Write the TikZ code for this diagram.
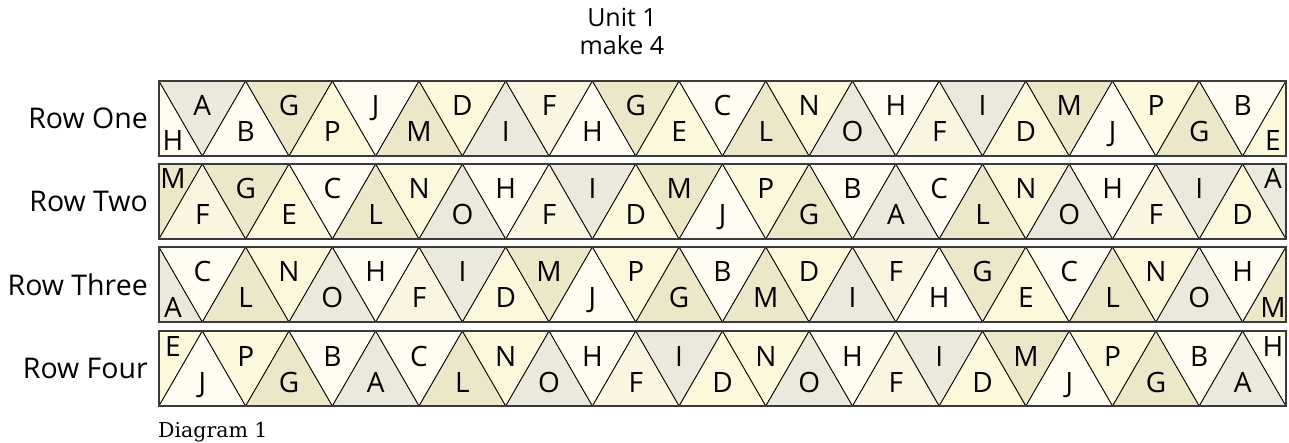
\documentclass[tikz,border=0pt]{standalone}
\usepackage{fontspec}
\setmainfont{Open Sans}
\newfontfamily\capfont{DejaVu Serif}
\usetikzlibrary{positioning}
\definecolor{Stone}{HTML}{EBE9DB}
\definecolor{Olive}{HTML}{ECE7C9}
\definecolor{Lemon}{HTML}{FCF8DC}
\definecolor{Cream}{HTML}{FAF5E1}
\definecolor{Ivory}{HTML}{FFFDF1}
\definecolor{Frame}{HTML}{3A3A3A}
% one fill per letter
\colorlet{tA}{Stone}\colorlet{tI}{Stone}\colorlet{tO}{Stone}
\colorlet{tG}{Olive}\colorlet{tM}{Olive}\colorlet{tL}{Olive}
\colorlet{tP}{Lemon}\colorlet{tD}{Lemon}\colorlet{tE}{Lemon}\colorlet{tN}{Lemon}
\colorlet{tF}{Cream}
\colorlet{tB}{Ivory}\colorlet{tJ}{Ivory}\colorlet{tH}{Ivory}\colorlet{tC}{Ivory}
\begin{document}
\begin{tikzpicture}[
  x=1pt,y=-1pt,
  tri/.style={fill=#1,draw=black,line width=.8pt,line join=miter},
  letter/.style={font=\fontsize{28}{30}\selectfont,inner sep=0pt,anchor=base},
  rowlabel/.style={font=\fontsize{28.5}{32}\selectfont,inner sep=0pt,anchor=east},
  frame/.style={draw=Frame,line width=1.3pt}
]
\useasboundingbox (0,0) rectangle (1289,443);
\def\rowx{159}\def\triw{86.69}\def\rowh{75}
\node[font=\fontsize{25}{28}\selectfont,align=center] (unit) at (622,31) {Unit 1\\make 4};
\foreach \row/\rowtop/\kind/\lbl/\seq in {
  one/81/0/Row One/{H,A,B,G,P,J,M,D,I,F,H,G,E,C,L,N,O,H,F,I,D,M,J,P,G,B,E},
  two/164/1/Row Two/{M,F,G,E,C,L,N,O,H,F,I,D,M,J,P,G,B,A,C,L,N,O,H,F,I,D,A},
  three/247/0/Row Three/{A,C,L,N,O,H,F,I,D,M,J,P,G,B,M,D,I,F,H,G,E,C,L,N,O,H,M},
  four/331/1/Row Four/{E,J,P,G,B,A,C,L,N,O,H,F,I,D,N,O,H,F,I,D,M,J,P,G,B,A,H}}{
  \node[rowlabel] (\row-label) at (148,{\rowtop+37.5}) {\lbl};
  \begin{scope}
    \clip (\rowx,\rowtop) rectangle ++({13*\triw},\rowh);
    \foreach \c [count=\i from 0] in \seq {
      \pgfmathtruncatemacro\dn{mod(\i+\kind,2)}
      \ifnum\dn=1
        \filldraw[tri=t\c] ({\rowx+(\i-1)*\triw/2},\rowtop) -- ({\rowx+(\i+1)*\triw/2},\rowtop) -- ({\rowx+\i*\triw/2},{\rowtop+\rowh}) -- cycle;
      \else
        \filldraw[tri=t\c] ({\rowx+(\i-1)*\triw/2},{\rowtop+\rowh}) -- ({\rowx+(\i+1)*\triw/2},{\rowtop+\rowh}) -- ({\rowx+\i*\triw/2},\rowtop) -- cycle;
      \fi
      \pgfmathsetmacro\lx{\i==0 ? \rowx+14 : (\i==26 ? \rowx+13*\triw-13 : \rowx+\i*\triw/2)}
      \pgfmathsetmacro\ly{(\i==0 || \i==26) ? (\kind==0 ? \rowtop+70 : \rowtop+25) : (\dn==1 ? \rowtop+35 : \rowtop+61)}
      \node[letter] (\row-\i) at (\lx,\ly) {\c};
    }
  \end{scope}
  \draw[frame] (\rowx,\rowtop) rectangle ++({13*\triw},\rowh);
}
\node[font=\capfont\fontsize{20.5}{24}\selectfont,anchor=base west,inner sep=0pt] (caption) at (158,437) {Diagram 1};
\end{tikzpicture}
\end{document}
